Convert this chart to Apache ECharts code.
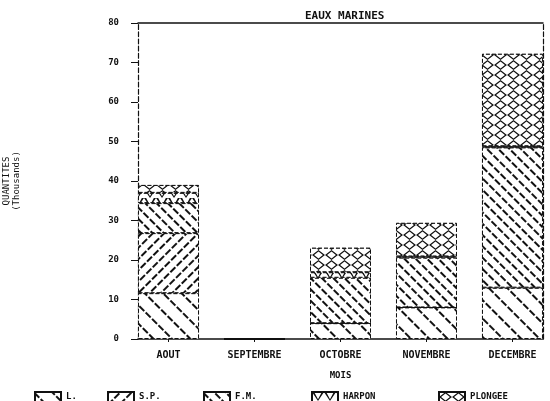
<!DOCTYPE html>
<html>
<head>
<meta charset="utf-8">
<script src="https://cdn.jsdelivr.net/npm/echarts@6/dist/echarts.min.js"></script>
<style>
  html, body { margin: 0; padding: 0; background: #fff; }
  #chart { width: 550px; height: 401px; }
</style>
</head>
<body>
<div id="chart"></div>
<script>
// mois
const categories = ['AOUT', 'SEPTEMBRE', 'OCTOBRE', 'NOVEMBRE', 'DECEMBRE']
const positions = [0, 1, 2, 3, 4]
// quantites (milliers)
const valL = [11.6, 0, 4.0, 8.0, 13.0]
const valSP = [15.2, 0, 0, 0, 0]
const valFM = [7.6, 0, 11.5, 12.6, 35.5]
const valHarpon = [2.6, 0, 1.4, 0.3, 0.3]
const valPlongee = [2.0, 0, 6.2, 8.5, 23.4]
const yTicks = [0, 10, 20, 30, 40, 50, 60, 70, 80]

const FONT = '"DejaVu Sans Mono", monospace'
const INK = '#111'

// hachures
const lines = (rot, gap) => ({
    symbol: 'rect', symbolSize: 1, color: INK, backgroundColor: '#fff',
    dashArrayX: [[7, 2]], dashArrayY: [1.5, gap], rotation: rot
})
const cross = {
    // losanges creux -> quadrillage en X
    symbol: 'path://M5,0L10,5L5,10L0,5ZM5,1.6L1.6,5L5,8.4L8.4,5Z',
    symbolSize: 1, symbolKeepAspect: false, color: INK, backgroundColor: '#fff',
    dashArrayX: [13, 0], dashArrayY: [10, 0]
}
const vee = {
    symbol: 'path://M0,0L1.8,0L5,8L8.2,0L10,0L5,10Z',
    symbolSize: 1, symbolKeepAspect: false, color: INK, backgroundColor: '#fff',
    dashArrayX: [12, 0], dashArrayY: [9, 0]
}

const seriesDefs = [
    { name: 'L.', data: valL, decal: lines(Math.PI / 4, 11) },
    { name: 'S.P.', data: valSP, decal: lines(-Math.PI / 4, 6) },
    { name: 'F.M.', data: valFM, decal: lines(Math.PI / 4, 6) },
    { name: 'HARPON', data: valHarpon, decal: vee },
    { name: 'PLONGEE', data: valPlongee, decal: cross }
]
const legendLeft = [29, 102, 198, 306, 433]

const chart = echarts.init(document.getElementById('chart'))
const option = {
    backgroundColor: '#fff',
    animation: false,
    title: {
        text: 'EAUX MARINES', left: 300, top: 6,
        textStyle: { fontFamily: FONT, fontSize: 11, fontWeight: 'bold', color: INK }
    },
    legend: seriesDefs.map((s, i) => ({
        data: [s.name], left: legendLeft[i], top: 386,
        icon: 'rect', itemWidth: 26, itemHeight: 10, itemGap: 4,
        textStyle: { fontFamily: FONT, fontSize: 9, fontWeight: 'bold', color: INK },
        selectedMode: false
    })),
    grid: { left: 138, right: 7, top: 23, bottom: 62, outerBoundsMode: 'none', containLabel: false },
    xAxis: [{
        type: 'value', min: -0.355, max: 4.355, position: 'bottom',
        name: 'MOIS', nameLocation: 'middle', nameGap: 32,
        nameTextStyle: { fontFamily: FONT, fontSize: 9, fontWeight: 'bold', color: INK },
        splitLine: { show: false },
        axisLine: { show: true, onZero: false, lineStyle: { color: INK, width: 1.5 } },
        axisTick: { show: true, customValues: positions, length: 3, lineStyle: { color: INK } },
        axisLabel: {
            customValues: positions, margin: 11,
            formatter: v => categories[Math.round(v)],
            fontFamily: FONT, fontSize: 10, fontWeight: 'bold', color: INK
        }
    }, {
        type: 'value', min: -0.355, max: 4.355, position: 'top',
        splitLine: { show: false }, axisTick: { show: false }, axisLabel: { show: false },
        axisLine: { show: true, onZero: false, lineStyle: { color: INK, width: 1.5 } }
    }],
    yAxis: [{
        type: 'value', min: 0, max: 80, interval: 10, position: 'left',
        name: 'QUANTITES\n(Thousands)', nameLocation: 'middle', nameRotate: 90, nameGap: 116,
        nameTextStyle: { fontFamily: FONT, fontSize: 9, color: INK, lineHeight: 10 },
        splitLine: { show: false },
        axisLine: { show: true, onZero: false, lineStyle: { color: INK, type: 'dashed', width: 1.2 } },
        axisTick: { show: true, length: 7, lineStyle: { color: INK } },
        axisLabel: {
            customValues: yTicks, margin: 19,
            fontFamily: FONT, fontSize: 9, fontWeight: 'bold', color: INK
        }
    }, {
        type: 'value', min: 0, max: 80, position: 'right',
        splitLine: { show: false }, axisTick: { show: false }, axisLabel: { show: false },
        axisLine: { show: true, onZero: false, lineStyle: { color: INK, type: 'dashed', width: 1.2 } }
    }],
    series: seriesDefs.map(s => ({
        name: s.name, type: 'bar', stack: 'total', barWidth: 61,
        // valeur en premier pour que l'empilement porte sur y
        data: s.data.map((v, i) => [v, positions[i]]),
        encode: { x: 1, y: 0 },
        itemStyle: {
            color: '#fff', borderColor: INK, borderWidth: 1, borderType: 'dashed',
            decal: s.decal
        },
        emphasis: { disabled: true }
    }))
}
chart.setOption(option)
</script>
</body>
</html>
